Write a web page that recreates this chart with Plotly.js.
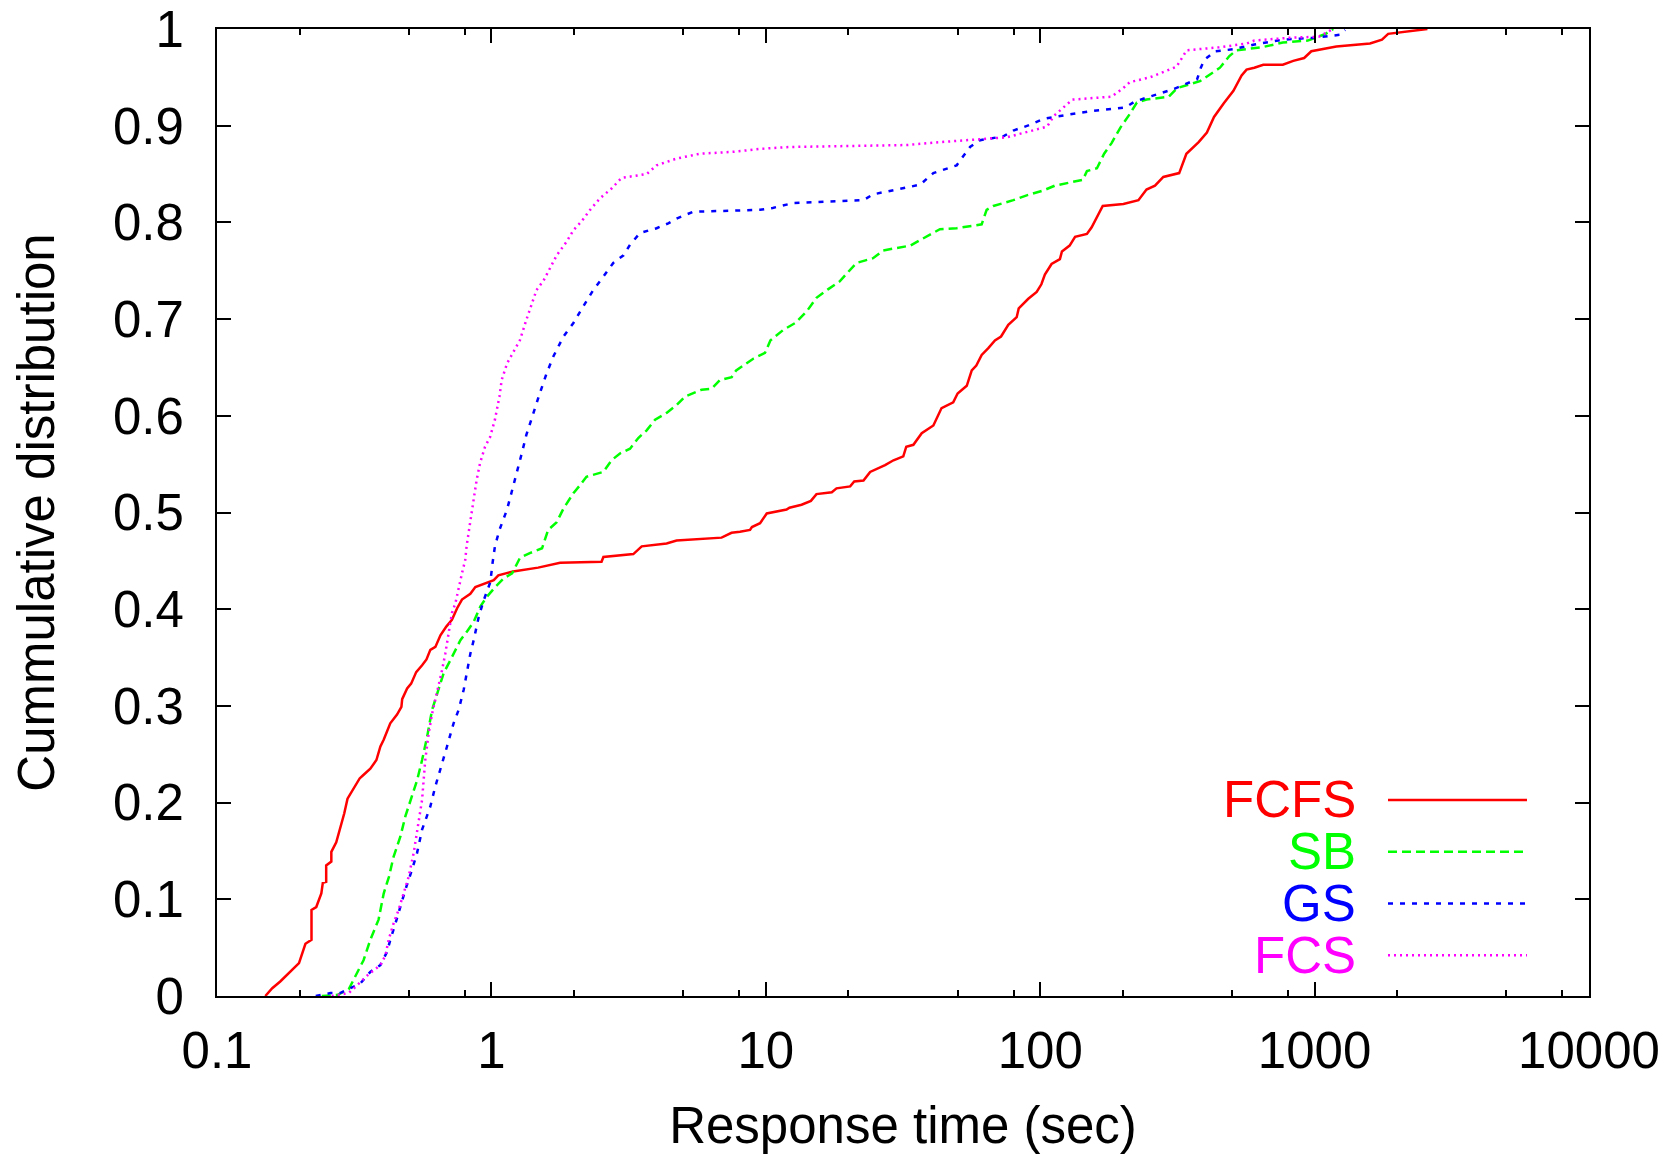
<!DOCTYPE html>
<html>
<head>
<meta charset="utf-8">
<script src="https://cdn.plot.ly/plotly-3.0.1.min.js"></script>
<style>html,body{margin:0;padding:0;background:#ffffff;}</style>
</head>
<body>
<div id="chart" style="width:1679px;height:1154px;"></div>
<script>
// ---- Data ----
const seriesNames = ["FCFS", "SB", "GS", "FCS"];

const fcfsX = [0.150,0.159,0.170,0.180,0.199,0.210,0.221,0.221,0.230,0.240,0.243,0.250,0.250,0.261,0.261,0.272,0.281,0.291,0.299,0.310,0.331,0.340,0.362,0.381,0.394,0.405,0.428,0.453,0.470,0.473,0.493,0.510,0.532,0.559,0.580,0.599,0.625,0.652,0.685,0.718,0.750,0.781,0.838,0.874,0.958,1.02,1.06,1.20,1.48,1.78,2.52,2.56,3.29,3.53,4.35,4.73,6.9,7.5,8.05,8.76,8.9,9.53,10.08,11.9,12.2,13.5,14.6,15.3,17.4,18.1,20.3,21.0,22.7,24.0,27.2,29.2,31.7,32.5,34.5,37.0,40.8,43.7,48.2,50,54.0,56.3,58.5,61.2,64.7,68.4,72,76.5,82.1,83.5,90.5,97.1,101,104,110,118,120,128,134,148,154,161,169,201,228,244,262,281,321,341,378,405,430,466,506,542,565,603,650,766,836,916,973,1200,1592,1760,1854,2577];
const fcfsY = [0,0.008,0.015,0.022,0.034,0.054,0.058,0.089,0.092,0.106,0.117,0.118,0.135,0.139,0.149,0.159,0.173,0.189,0.204,0.211,0.225,0.228,0.235,0.244,0.258,0.265,0.282,0.291,0.299,0.307,0.318,0.323,0.335,0.342,0.348,0.358,0.361,0.373,0.382,0.389,0.401,0.410,0.416,0.423,0.427,0.430,0.435,0.439,0.443,0.448,0.449,0.454,0.457,0.465,0.468,0.471,0.474,0.479,0.480,0.482,0.485,0.489,0.499,0.503,0.505,0.508,0.512,0.519,0.521,0.525,0.527,0.532,0.533,0.542,0.549,0.554,0.558,0.568,0.570,0.582,0.590,0.608,0.614,0.623,0.631,0.647,0.652,0.663,0.670,0.678,0.682,0.694,0.702,0.711,0.721,0.728,0.736,0.746,0.757,0.762,0.770,0.776,0.785,0.788,0.795,0.805,0.817,0.819,0.823,0.834,0.838,0.847,0.851,0.871,0.883,0.893,0.909,0.923,0.936,0.952,0.958,0.960,0.963,0.963,0.967,0.970,0.977,0.982,0.985,0.989,0.995,1.0];

const sbX = [0.241,0.274,0.302,0.319,0.342,0.362,0.388,0.405,0.423,0.440,0.466,0.486,0.507,0.536,0.559,0.583,0.608,0.634,0.670,0.708,0.739,0.771,0.815,0.862,0.912,0.964,1.033,1.11,1.19,1.27,1.38,1.53,1.61,1.73,1.83,1.99,2.10,2.22,2.56,2.74,2.94,3.20,3.43,3.68,3.95,4.35,4.73,5.08,5.84,6.35,6.81,7.51,7.8,8.28,9.0,9.93,10.4,11.6,12.8,14.1,15.3,16.9,18.6,20.0,21.4,24.6,26.8,33.6,38.6,43.1,49.6,61.2,63.8,67.5,79.8,89.3,102.6,113,143,148,161,171,182,196,212,225,244,294,316,382,452,489,519,640,766,944,1097,1170];
const sbY = [0,0.001,0.007,0.020,0.037,0.058,0.079,0.106,0.123,0.144,0.165,0.186,0.203,0.223,0.244,0.268,0.296,0.313,0.334,0.347,0.358,0.368,0.377,0.387,0.403,0.413,0.423,0.432,0.437,0.453,0.458,0.463,0.482,0.490,0.504,0.520,0.528,0.537,0.542,0.554,0.561,0.566,0.577,0.585,0.596,0.603,0.611,0.620,0.627,0.628,0.637,0.640,0.647,0.652,0.659,0.665,0.678,0.689,0.696,0.708,0.722,0.731,0.739,0.749,0.758,0.763,0.771,0.776,0.785,0.793,0.794,0.798,0.813,0.817,0.823,0.828,0.833,0.838,0.844,0.853,0.856,0.871,0.882,0.898,0.912,0.924,0.927,0.930,0.939,0.946,0.960,0.972,0.978,0.981,0.986,0.988,0.995,1.0];

const gsX = [0.229,0.259,0.281,0.306,0.333,0.362,0.394,0.417,0.428,0.447,0.466,0.486,0.514,0.536,0.559,0.575,0.599,0.625,0.652,0.689,0.728,0.760,0.793,0.815,0.838,0.862,0.899,0.937,0.991,1.01,1.03,1.07,1.14,1.19,1.24,1.29,1.34,1.42,1.50,1.59,1.68,1.83,1.99,2.16,2.35,2.56,2.78,3.03,3.20,3.48,4.00,4.41,4.73,5.44,9.53,10.6,12.6,22.7,24.6,36.5,40.8,49.6,55.5,60.4,73.4,79.8,90,103,112,152,205,221,238,307,373,385,396,434,504,603,766,1002,1237,1293];
const gsY = [0,0.003,0.003,0.008,0.013,0.025,0.032,0.046,0.058,0.075,0.093,0.110,0.131,0.148,0.172,0.182,0.196,0.217,0.234,0.258,0.282,0.296,0.317,0.337,0.354,0.368,0.392,0.409,0.428,0.448,0.465,0.482,0.503,0.523,0.541,0.561,0.580,0.603,0.623,0.644,0.661,0.682,0.696,0.713,0.730,0.744,0.758,0.766,0.777,0.789,0.794,0.799,0.804,0.811,0.813,0.815,0.820,0.823,0.829,0.839,0.851,0.859,0.878,0.885,0.889,0.895,0.900,0.907,0.909,0.915,0.919,0.925,0.928,0.938,0.948,0.960,0.968,0.977,0.979,0.984,0.989,0.991,0.994,0.999];

const fcsX = [0.262,0.302,0.324,0.352,0.394,0.411,0.422,0.440,0.459,0.479,0.499,0.521,0.543,0.559,0.574,0.591,0.608,0.634,0.661,0.679,0.698,0.718,0.739,0.760,0.781,0.803,0.812,0.836,0.859,0.884,0.909,0.948,0.989,1.03,1.07,1.09,1.14,1.20,1.27,1.34,1.40,1.46,1.55,1.64,1.73,1.88,1.99,2.13,2.29,2.49,2.74,2.98,3.68,4.00,4.73,5.75,7.62,9.53,12.2,32.6,43.1,75.5,100,106,112,131,182,201,212,251,314,342,447,567,603,813,1035,1150];
const fcsY = [0,0.003,0.011,0.021,0.032,0.042,0.058,0.075,0.089,0.106,0.123,0.148,0.179,0.203,0.244,0.272,0.292,0.313,0.337,0.354,0.375,0.396,0.406,0.423,0.437,0.451,0.465,0.489,0.513,0.534,0.551,0.568,0.578,0.596,0.620,0.637,0.654,0.666,0.678,0.699,0.716,0.730,0.740,0.754,0.766,0.780,0.792,0.801,0.813,0.825,0.835,0.846,0.850,0.859,0.866,0.871,0.873,0.876,0.878,0.880,0.883,0.888,0.897,0.899,0.910,0.927,0.930,0.939,0.945,0.950,0.961,0.978,0.981,0.985,0.988,0.991,0.992,0.999];

const xTickVals = [0.1, 1, 10, 100, 1000, 10000];
const xTickText = ["0.1", "1", "10", "100", "1000", "10000"];
const xMinorVals = [0.2,0.5,0.8, 2,5,8, 20,50,80, 200,500,800, 2000,5000,8000];
const yTickVals = [0,0.1,0.2,0.3,0.4,0.5,0.6,0.7,0.8,0.9,1];
const yTickText = ["0","0.1","0.2","0.3","0.4","0.5","0.6","0.7","0.8","0.9","1"];

// ---- Styles ----
const colors = ["#ff0000", "#00ff00", "#0000ff", "#ff00ff"];
const dashes = ["solid", "9px,5px", "5px,7px", "2px,4px"];
const FONT = "Liberation Sans, Arial, sans-serif";
const FS = 51;

const xs = [fcfsX, sbX, gsX, fcsX];
const ys = [fcfsY, sbY, gsY, fcsY];

const traces = seriesNames.map((n, i) => ({
  type: "scatter", mode: "lines", name: n,
  x: xs[i], y: ys[i],
  line: {color: colors[i], width: 2.5, dash: dashes[i], shape: "linear"},
  showlegend: false, hoverinfo: "skip"
}));

// Legend built from annotations (text left of sample, right-aligned) + sample lines
const legTextX = 0.8313, legLineX0 = 0.8535, legLineX1 = 0.9548;
const legY0 = 0.2027, legStep = 0.0535;
const annotations = [], shapes = [];
seriesNames.forEach((n, i) => {
  const yy = legY0 - i * legStep;
  annotations.push({
    xref: "paper", yref: "paper", x: legTextX, y: yy,
    xanchor: "right", yanchor: "middle", showarrow: false,
    text: n, font: {family: FONT, size: FS, color: colors[i]}
  });
  shapes.push({
    type: "line", xref: "paper", yref: "paper",
    x0: legLineX0, x1: legLineX1, y0: yy, y1: yy,
    line: {color: colors[i], width: 2.5, dash: dashes[i]}
  });
});

const layout = {
  width: 1679, height: 1154,
  margin: {l: 217, r: 90, t: 29, b: 158, pad: 0},
  paper_bgcolor: "#ffffff", plot_bgcolor: "#ffffff",
  font: {family: FONT, size: FS, color: "#000000"},
  showlegend: false,
  xaxis: {
    type: "log", range: [-1, 4],
    tickmode: "array", tickvals: xTickVals, ticktext: xTickText,
    ticks: "inside", ticklen: 14, tickwidth: 2, tickcolor: "#000",
    minor: {tickmode: "array", tickvals: xMinorVals, ticks: "inside", ticklen: 6, tickwidth: 2, tickcolor: "#000", showgrid: false},
    showline: true, linecolor: "#000", linewidth: 2, mirror: "allticks",
    showgrid: false, zeroline: false,
    tickfont: {family: FONT, size: FS, color: "#000"},
    ticklabelstandoff: 9,
    title: {text: "Response time (sec)", font: {family: FONT, size: FS, color: "#000"}, standoff: 29}
  },
  yaxis: {
    range: [0, 1],
    tickmode: "array", tickvals: yTickVals, ticktext: yTickText,
    ticks: "inside", ticklen: 14, tickwidth: 2, tickcolor: "#000",
    showline: true, linecolor: "#000", linewidth: 2, mirror: "allticks",
    showgrid: false, zeroline: false,
    tickfont: {family: FONT, size: FS, color: "#000"},
    ticklabelstandoff: 21,
    title: {text: "Cummulative distribution", font: {family: FONT, size: FS, color: "#000"}, standoff: 42}
  },
  annotations: annotations,
  shapes: shapes
};

Plotly.newPlot("chart", traces, layout, {displayModeBar: false, staticPlot: true});
</script>
</body>
</html>
